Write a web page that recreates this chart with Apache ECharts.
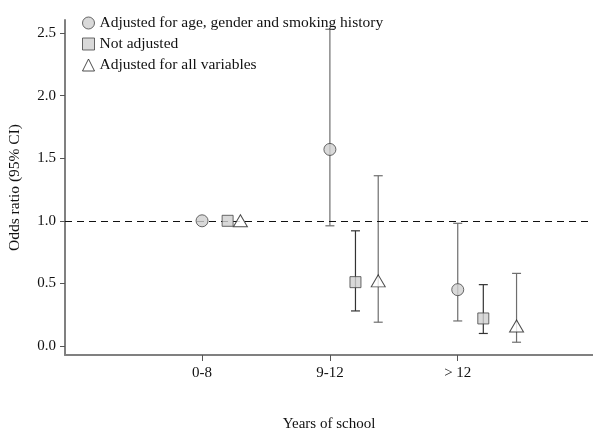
<!DOCTYPE html>
<html>
<head>
<meta charset="utf-8">
<script src="https://cdn.jsdelivr.net/npm/echarts@6/dist/echarts.min.js"></script>
<style>html,body{margin:0;padding:0;background:#fff}#c{width:593px;height:431px}</style>
</head>
<body>
<div id="c"></div>
<script>
// Categories and their positions on the x scale
const categories = ['0-8', '9-12', '> 12'];
const categoryPos = [1, 2, 3];

// Dodged x positions of each series (data units)
const xCircle = [1.0, 2.0, 3.0];
const xSquare = [1.2, 2.2, 3.2];
const xTriangle = [1.3, 2.378, 3.46];

// Odds ratios and 95% CI
const orAgeGender = [1.00, 1.57, 0.45];
const loAgeGender = [1.00, 0.96, 0.20];
const hiAgeGender = [1.00, 2.53, 0.98];

const orNotAdj = [1.00, 0.51, 0.22];
const loNotAdj = [1.00, 0.28, 0.10];
const hiNotAdj = [1.00, 0.92, 0.49];

const orAll = [1.00, 0.52, 0.16];
const loAll = [1.00, 0.19, 0.03];
const hiAll = [1.00, 1.36, 0.58];

const yTicks = [0.0, 0.5, 1.0, 1.5, 2.0, 2.5];

const names = ['Adjusted for age, gender and smoking history', 'Not adjusted', 'Adjusted for all variables'];

const FONT = 'Liberation Serif';

function errData(xs, lo, hi) {
  return xs.map((x, i) => [x, lo[i], hi[i]]);
}
function errSeries(name, data, color) {
  return {
    type: 'custom', name: name, silent: true, z: 2,
    data: data,
    encode: {x: 0, y: [1, 2]},
    renderItem: function (params, api) {
      const x = api.value(0);
      const p1 = api.coord([x, api.value(1)]);
      const p2 = api.coord([x, api.value(2)]);
      if (Math.abs(p1[1] - p2[1]) < 1) return null;
      const w = 4.5;
      const st = {stroke: color, lineWidth: 1.2};
      return {
        type: 'group', children: [
          {type: 'line', shape: {x1: p1[0], y1: p1[1], x2: p2[0], y2: p2[1]}, style: st},
          {type: 'line', shape: {x1: p1[0] - w, y1: p1[1], x2: p1[0] + w, y2: p1[1]}, style: st},
          {type: 'line', shape: {x1: p2[0] - w, y1: p2[1], x2: p2[0] + w, y2: p2[1]}, style: st}
        ]
      };
    }
  };
}
function zip(xs, ys) { return xs.map((x, i) => [x, ys[i]]); }

const chart = echarts.init(document.getElementById('c'), null, {renderer: 'canvas'});
chart.setOption({
  animation: false,
  textStyle: {fontFamily: FONT},
  grid: {left: 65, right: 0, top: 20, bottom: 76, containLabel: false, outerBoundsMode: 'none'},
  legend: {
    orient: 'vertical', left: 82, top: 15, padding: 0, itemGap: 5, itemWidth: 12, itemHeight: 12,
    itemTextGap: 11,
    data: names,
    itemStyle: {borderWidth: 1},
    textStyle: {fontFamily: FONT, fontSize: 15.5, color: '#111'}
  },
  xAxis: {
    type: 'value', min: -0.072, max: 4.058,
    name: 'Years of school', nameLocation: 'middle', nameGap: 62,
    nameTextStyle: {fontFamily: FONT, fontSize: 15, color: '#111'},
    axisLine: {show: true, onZero: false, lineStyle: {color: '#808080', width: 2}},
    axisTick: {show: true, customValues: categoryPos, length: 6, lineStyle: {color: '#555', width: 1}},
    axisLabel: {
      show: true, customValues: categoryPos, margin: 11,
      fontFamily: FONT, fontSize: 15, color: '#111',
      formatter: function (v) { const i = categoryPos.indexOf(Math.round(v)); return i >= 0 ? categories[i] : ''; }
    },
    splitLine: {show: false}
  },
  yAxis: {
    type: 'value', min: -0.072, max: 2.604,
    name: 'Odds ratio (95% CI)', nameLocation: 'middle', nameGap: 42, nameRotate: 90,
    nameTextStyle: {fontFamily: FONT, fontSize: 15.5, color: '#111'},
    axisLine: {show: true, onZero: false, lineStyle: {color: '#808080', width: 2}},
    axisTick: {show: true, customValues: yTicks, length: 5, lineStyle: {color: '#555', width: 1}},
    axisLabel: {
      show: true, customValues: yTicks, margin: 9,
      fontFamily: FONT, fontSize: 15, color: '#111',
      formatter: function (v) { return v.toFixed(1); }
    },
    splitLine: {show: false}
  },
  series: [
    errSeries('err1', errData(xCircle, loAgeGender, hiAgeGender), '#6e6e6e'),
    errSeries('err2', errData(xSquare, loNotAdj, hiNotAdj), '#333'),
    errSeries('err3', errData(xTriangle, loAll, hiAll), '#6e6e6e'),
    {
      type: 'line', name: 'ref', silent: true, data: [], z: 1,
      markLine: {
        silent: true, symbol: 'none', label: {show: false},
        lineStyle: {type: [7, 5], color: '#111', width: 1.2},
        data: [{yAxis: 1.0}]
      }
    },
    {
      type: 'scatter', name: names[0], symbol: 'circle', symbolSize: 12, z: 5,
      data: zip(xCircle, orAgeGender),
      itemStyle: {color: '#cfcfcf', borderColor: '#444', borderWidth: 1}
    },
    {
      type: 'scatter', name: names[1], symbol: 'rect', symbolSize: 11, z: 5,
      data: zip(xSquare, orNotAdj),
      itemStyle: {color: '#cfcfcf', borderColor: '#444', borderWidth: 1}
    },
    {
      type: 'scatter', name: names[2], symbol: 'triangle', symbolSize: [14, 12], z: 5,
      data: zip(xTriangle, orAll),
      itemStyle: {color: '#ffffff', borderColor: '#222', borderWidth: 1}
    }
  ]
});
</script>
</body>
</html>
